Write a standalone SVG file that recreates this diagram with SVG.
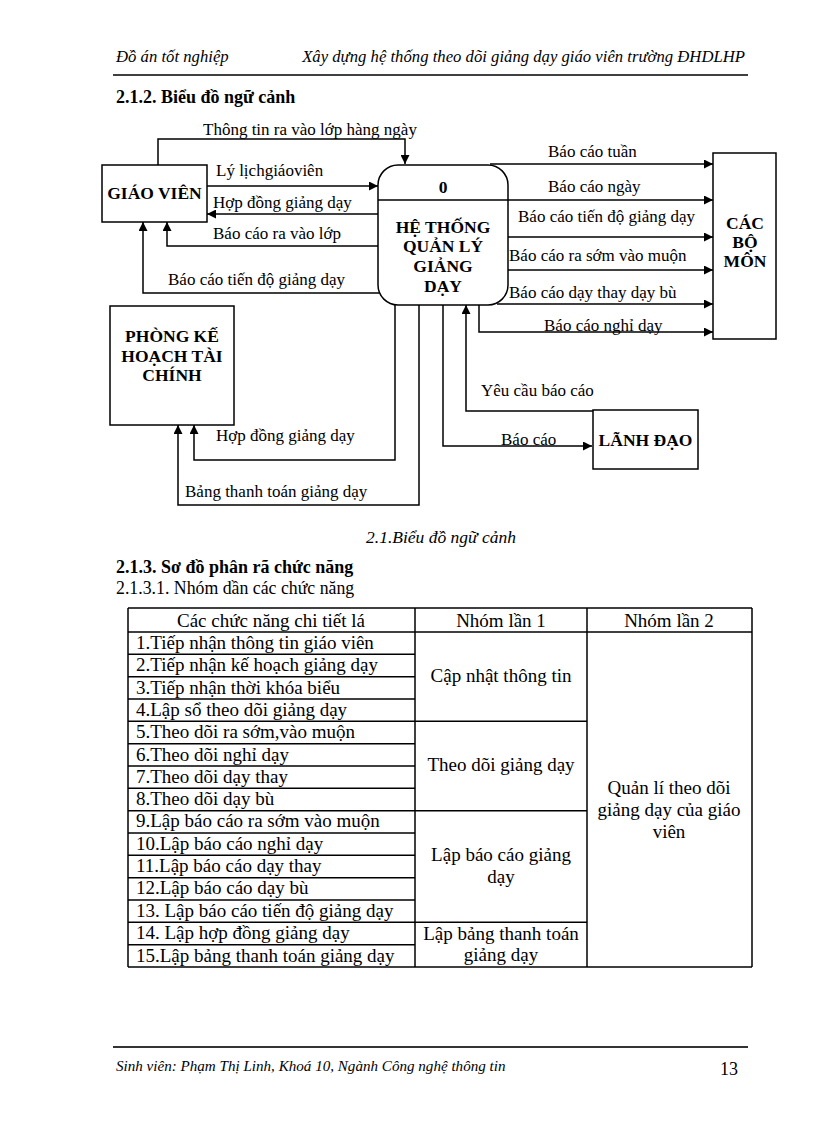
<svg xmlns="http://www.w3.org/2000/svg" width="816" height="1123" viewBox="0 0 816 1123">
<defs>
<marker id="ah" viewBox="0 0 10 10" refX="10" refY="5" markerWidth="9" markerHeight="9" markerUnits="userSpaceOnUse" orient="auto">
<path d="M0,0 L10,5 L0,10 z" fill="#000"/>
</marker>
<style>
text{font-family:"Liberation Serif","Times New Roman",serif;fill:#000}
.hd{font-size:16.7px;font-style:italic}
.h1{font-size:18px;font-weight:bold}
.lb{font-size:17px}
.nd{font-size:17.5px;font-weight:bold;text-anchor:middle}
.box{fill:#fff;stroke:#000;stroke-width:1.5}
.cn path{fill:none;stroke:#000;stroke-width:1.5}
.ar{marker-end:url(#ah)}
.tb{font-size:19px}
.tc{font-size:19px;text-anchor:middle}
.tl line{stroke:#000;stroke-width:1.5}
</style>
</defs>
<rect width="816" height="1123" fill="#fff"/>

<!-- header -->
<text class="hd" x="116" y="62">Đồ án tốt nghiệp</text>
<text class="hd" x="745" y="62" text-anchor="end">Xây dựng hệ thống theo dõi giảng dạy giáo viên trường ĐHDLHP</text>
<line x1="113" y1="75" x2="748" y2="75" stroke="#000" stroke-width="1.5"/>
<text class="h1" x="116" y="103">2.1.2. Biểu đồ ngữ cảnh</text>

<!-- connectors -->
<g id="connectors" class="cn">
<path class="ar" d="M158,165 V139 H405 V164"/>
<path class="ar" d="M207,186 H378"/>
<path class="ar" d="M378,214 H207"/>
<path class="ar" d="M378,246 H167 V222"/>
<path class="ar" d="M379,293 H143 V222"/>
<path class="ar" d="M490,164 H713"/>
<path class="ar" d="M508,200 H713"/>
<path class="ar" d="M508,237 H713"/>
<path class="ar" d="M508,270 H713"/>
<path class="ar" d="M497,304 H713"/>
<path class="ar" d="M479,305 V332 H713"/>
<path class="ar" d="M395,305 V460 H194 V425"/>
<path class="ar" d="M419,305 V505 H178 V425"/>
<path class="ar" d="M443,305 V446 H592"/>
<path class="ar" d="M593,411 H466 V305"/>
</g>
<g id="connector-labels">
<text class="lb" x="203" y="135">Thông tin ra vào lớp hàng ngày</text>
<text class="lb" x="216" y="176">Lý lịchgiáoviên</text>
<text class="lb" x="213" y="208">Hợp đồng giảng dạy</text>
<text class="lb" x="213" y="239">Báo cáo ra vào lớp</text>
<text class="lb" x="168" y="285">Báo cáo tiến độ giảng dạy</text>
<text class="lb" x="548" y="157">Báo cáo tuần</text>
<text class="lb" x="548" y="192">Báo cáo ngày</text>
<text class="lb" x="518" y="222">Báo cáo tiến độ giảng dạy</text>
<text class="lb" x="509" y="261">Báo cáo ra sớm vào muộn</text>
<text class="lb" x="509" y="298">Báo cáo dạy thay dạy bù</text>
<text class="lb" x="544" y="331">Báo cáo nghỉ dạy</text>
<text class="lb" x="216" y="441">Hợp đồng giảng dạy</text>
<text class="lb" x="185" y="497">Bảng thanh toán giảng dạy</text>
<text class="lb" x="481" y="396">Yêu cầu báo cáo</text>
<text class="lb" x="501" y="445">Báo cáo</text>
</g>

<!-- nodes -->
<g id="giao-vien">
<rect class="box" x="102" y="165" width="105" height="57"/>
<text class="nd" x="154.5" y="199">GIÁO VIÊN</text>
</g>
<g id="he-thong">
<rect class="box" x="378" y="165" width="130" height="140" rx="20" ry="20"/>
<line x1="378" y1="200" x2="508" y2="200" stroke="#000" stroke-width="1.5"/>
<text class="nd" x="443" y="193">0</text>
<text class="nd" x="443" y="233">HỆ THỐNG</text>
<text class="nd" x="443" y="252">QUẢN LÝ</text>
<text class="nd" x="443" y="272">GIẢNG</text>
<text class="nd" x="443" y="292">DẠY</text>
</g>
<g id="cac-bo-mon">
<rect class="box" x="713" y="153" width="63" height="186"/>
<text class="nd" x="745" y="229">CÁC</text>
<text class="nd" x="745" y="248">BỘ</text>
<text class="nd" x="745" y="267">MÔN</text>
</g>
<g id="phong-ke-hoach">
<rect class="box" x="110" y="306" width="124" height="119"/>
<text class="nd" x="172" y="342">PHÒNG KẾ</text>
<text class="nd" x="172" y="362">HOẠCH TÀI</text>
<text class="nd" x="172" y="381">CHÍNH</text>
</g>
<g id="lanh-dao">
<rect class="box" x="593" y="410" width="105" height="59"/>
<text class="nd" x="645.5" y="446">LÃNH ĐẠO</text>
</g>

<text class="hd" x="366" y="543" style="font-size:17.5px">2.1.Biểu đồ ngữ cảnh</text>
<text class="h1" x="116" y="573">2.1.3. Sơ đồ phân rã chức năng</text>
<text x="116" y="594" style="font-size:17.8px">2.1.3.1. Nhóm dần các chức năng</text>

<!-- table -->
<g id="table">
<g class="tl">
<line x1="128" y1="608" x2="752" y2="608"/>
<line x1="128" y1="632" x2="752" y2="632"/>
<line x1="128" y1="967" x2="752" y2="967"/>
<line x1="128" y1="608" x2="128" y2="967"/>
<line x1="415" y1="608" x2="415" y2="967"/>
<line x1="587" y1="608" x2="587" y2="967"/>
<line x1="752" y1="608" x2="752" y2="967"/>
<line x1="128" y1="654.3" x2="415" y2="654.3"/>
<line x1="128" y1="676.7" x2="415" y2="676.7"/>
<line x1="128" y1="699" x2="415" y2="699"/>
<line x1="128" y1="721.3" x2="587" y2="721.3"/>
<line x1="128" y1="743.7" x2="415" y2="743.7"/>
<line x1="128" y1="766" x2="415" y2="766"/>
<line x1="128" y1="788.3" x2="415" y2="788.3"/>
<line x1="128" y1="810.7" x2="587" y2="810.7"/>
<line x1="128" y1="833" x2="415" y2="833"/>
<line x1="128" y1="855.3" x2="415" y2="855.3"/>
<line x1="128" y1="877.7" x2="415" y2="877.7"/>
<line x1="128" y1="900" x2="415" y2="900"/>
<line x1="128" y1="922.3" x2="587" y2="922.3"/>
<line x1="128" y1="944.7" x2="415" y2="944.7"/>
</g>
<text class="tc" x="271" y="627">Các chức năng chi tiết lá</text>
<text class="tc" x="501" y="627">Nhóm lần 1</text>
<text class="tc" x="669" y="627">Nhóm lần 2</text>
<text class="tb" x="136" y="649">1.Tiếp nhận thông tin giáo viên</text>
<text class="tb" x="136" y="671">2.Tiếp nhận kế hoạch giảng dạy</text>
<text class="tb" x="136" y="694">3.Tiếp nhận thời khóa biểu</text>
<text class="tb" x="136" y="716">4.Lập sổ theo dõi giảng dạy</text>
<text class="tb" x="136" y="738">5.Theo dõi ra sớm,vào muộn</text>
<text class="tb" x="136" y="761">6.Theo dõi nghỉ dạy</text>
<text class="tb" x="136" y="783">7.Theo dõi dạy thay</text>
<text class="tb" x="136" y="805">8.Theo dõi dạy bù</text>
<text class="tb" x="136" y="827">9.Lập báo cáo ra sớm vào muộn</text>
<text class="tb" x="136" y="850">10.Lập báo cáo nghỉ dạy</text>
<text class="tb" x="136" y="872">11.Lập báo cáo dạy thay</text>
<text class="tb" x="136" y="894">12.Lập báo cáo dạy bù</text>
<text class="tb" x="136" y="917">13. Lập báo cáo tiến độ giảng dạy</text>
<text class="tb" x="136" y="939">14. Lập hợp đồng giảng dạy</text>
<text class="tb" x="136" y="962">15.Lập bảng thanh toán giảng dạy</text>
<text class="tc" x="501" y="682">Cập nhật thông tin</text>
<text class="tc" x="501" y="771">Theo dõi giảng dạy</text>
<text class="tc" x="501" y="861">Lập báo cáo giảng</text>
<text class="tc" x="501" y="883">dạy</text>
<text class="tc" x="501" y="940">Lập bảng thanh toán</text>
<text class="tc" x="501" y="961">giảng dạy</text>
<text class="tc" x="669" y="794">Quản lí theo dõi</text>
<text class="tc" x="669" y="816">giảng dạy của giáo</text>
<text class="tc" x="669" y="838">viên</text>
</g>

<!-- footer -->
<line x1="113" y1="1047" x2="748" y2="1047" stroke="#333" stroke-width="2"/>
<text x="116" y="1071" style="font-size:15.1px;font-style:italic">Sinh viên: Phạm Thị Linh, Khoá 10, Ngành Công nghệ thông tin</text>
<text x="738" y="1075" text-anchor="end" style="font-size:18px">13</text>
</svg>
